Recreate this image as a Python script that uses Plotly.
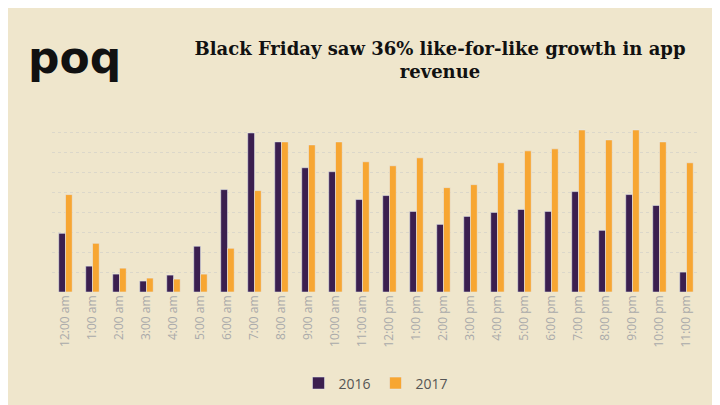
import plotly.graph_objects as go

hours = ["12:00 am","1:00 am","2:00 am","3:00 am","4:00 am","5:00 am","6:00 am","7:00 am","8:00 am","9:00 am","10:00 am","11:00 am",
         "12:00 pm","1:00 pm","2:00 pm","3:00 pm","4:00 pm","5:00 pm","6:00 pm","7:00 pm","8:00 pm","9:00 pm","10:00 pm","11:00 pm"]
v2016 = [59,26,18,11,17,46,103,160,151,125,121,93,97,81,68,76,80,83,81,101,62,98,87,20]
v2017 = [98,49,24,14,13,18,44,102,151,148,151,131,127,135,105,108,130,142,144,163,153,163,151,130]

fig = go.Figure()
fig.add_bar(x=hours, y=v2016, name="2016", marker_color="#3b1f4f")
fig.add_bar(x=hours, y=v2017, name="2017", marker_color="#f7a632")
fig.update_layout(
    width=720, height=405, margin=dict(l=44, r=28, t=120, b=121),
    paper_bgcolor="#efe6cc", plot_bgcolor="rgba(0,0,0,0)",
    bargap=0.5, showlegend=True,
    title=dict(text="<b>Black Friday saw 36% like-for-like growth in app<br>revenue</b>", x=0.6, xanchor="center", y=0.885, yanchor="middle",
               font=dict(family="DejaVu Serif", size=18, color="#111")),
    legend=dict(orientation="h", x=0.5, xanchor="center", y=-0.46, yanchor="top", font=dict(size=14, color="#555"), bgcolor="rgba(0,0,0,0)"),
    xaxis=dict(tickangle=-90, tickfont=dict(size=12, color="#aaa", family="Open Sans"), showline=False),
    yaxis=dict(range=[0,165], showticklabels=False, showgrid=True, gridcolor="rgba(200,200,200,0.5)", griddash="dot", dtick=20, zeroline=False),
    annotations=[dict(text="<b>poq</b>", x=-0.04, y=1.43, xref="paper", yref="paper", xanchor="left", yanchor="middle",
                      showarrow=False, font=dict(size=44, color="#111", family="DejaVu Sans"))],
    font=dict(family="Open Sans"),
)
fig.write_html("out.html")
